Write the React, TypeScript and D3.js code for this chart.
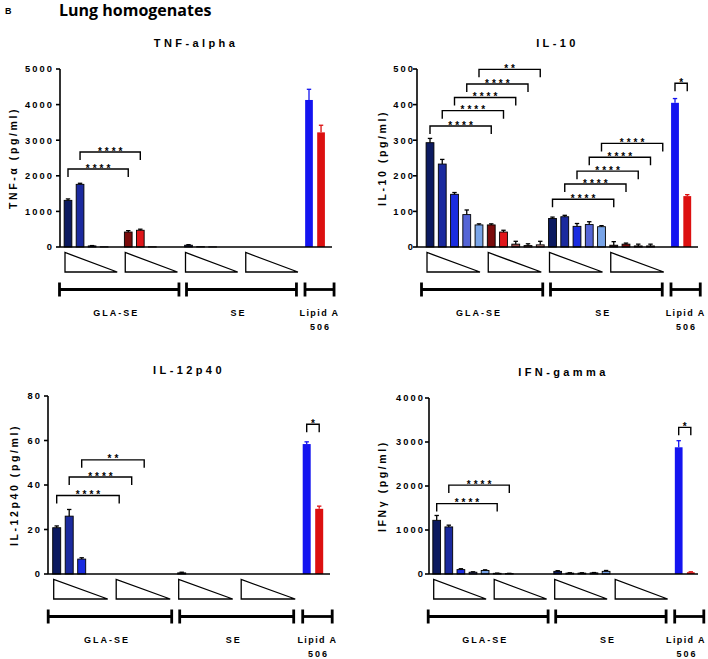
import React from 'react';
import * as d3 from 'd3';

// ---------- DATA ----------
const slots: number[] = d3.range(22);
const groupLabels = ['GLA-SE', 'SE', 'Lipid A', '506'];

const tnfValues = [1310, 1760, 30, 5, 0, 420, 470, 5, 0, 0, 50, 8, 3, 0, 0, 0, 0, 0, 0, 0, 4130, 3220];
const tnfErrors = [40, 30, 10, 0, 0, 40, 30, 0, 0, 0, 15, 0, 0, 0, 0, 0, 0, 0, 0, 0, 300, 200];
const tnfTicks = [0, 1000, 2000, 3000, 4000, 5000];
const tnfSig: [number, number, number, string][] = [
  [0, 5, 2190, '****'],
  [1, 6, 2670, '****'],
];

const il10Values = [293, 233, 148, 91, 62, 62, 42, 8, 4, 6, 80, 85, 58, 63, 57, 5, 8, 3, 3, 0, 405, 143];
const il10Errors = [12, 13, 5, 13, 3, 3, 5, 8, 5, 10, 4, 4, 8, 8, 3, 10, 3, 5, 5, 0, 12, 4];
const il10Ticks = [0, 100, 200, 300, 400, 500];
const il10Sig: [number, number, number, string][] = [
  [0, 5, 340, '****'],
  [1, 6, 383, '****'],
  [2, 7, 420, '****'],
  [3, 8, 458, '****'],
  [4, 9, 499, '**'],
  [10, 15, 134, '****'],
  [11, 16, 177, '****'],
  [12, 17, 213, '****'],
  [13, 18, 252, '****'],
  [14, 19, 291, '****'],
  [20, 21, 460, '*'],
];

const il12Values = [20.8, 26, 6.7, 0, 0, 0, 0, 0, 0, 0, 0.5, 0, 0, 0, 0, 0, 0, 0, 0, 0, 58.4, 29.3];
const il12Errors = [0.8, 3, 0.6, 0, 0, 0, 0, 0, 0, 0, 0.3, 0, 0, 0, 0, 0, 0, 0, 0, 0, 1, 1.2];
const il12Ticks = [0, 20, 40, 60, 80];
const il12Sig: [number, number, number, string][] = [
  [0, 5, 35.3, '****'],
  [1, 6, 43.6, '****'],
  [2, 7, 51.3, '**'],
  [20, 21, 67.3, '*'],
];

const ifnValues = [1220, 1070, 100, 40, 80, 15, 10, 0, 0, 0, 60, 20, 20, 25, 60, 0, 0, 0, 0, 0, 2880, 40];
const ifnErrors = [110, 40, 20, 10, 15, 5, 5, 0, 0, 0, 15, 8, 8, 8, 20, 0, 0, 0, 0, 0, 150, 10];
const ifnTicks = [0, 1000, 2000, 3000, 4000];
const ifnSig: [number, number, number, string][] = [
  [0, 5, 1600, '****'],
  [1, 6, 2020, '****'],
  [20, 21, 3333, '*'],
];

const slotColors = [
  '#0c1a60', '#1b2a9e', '#1a2ce0', '#5565d6', '#78a4e8',
  '#7a0b0b', '#e0161a', '#9a4a4a', '#b06a6a', '#c08a8a',
  '#0c1a60', '#1b2a9e', '#1a2ce0', '#5565d6', '#78a4e8',
  '#3a1010', '#7a0b0b', '#9a4a4a', '#b06a6a', '#c08a8a',
  '#1414f0', '#dc1010',
];

// ---------- PANEL CONFIG ----------
type Cfg = {
  title: string;
  yTitle: string;
  values: number[];
  errors: number[];
  ticks: number[];
  sig: [number, number, number, string][];
  axisX0: number;
  axisX1: number;
  yTop: number;
  yBottom: number;
  c0: number;
  step: number;
  labelGap: number;
  yTitleOff: number;
};

const panels: Cfg[] = [
  { title: 'TNF-alpha', yTitle: 'TNF-α (pg/ml)', values: tnfValues, errors: tnfErrors, ticks: tnfTicks, sig: tnfSig,
    axisX0: 60, axisX1: 332, yTop: 69, yBottom: 247, c0: 68, step: 12.05, labelGap: 6, yTitleOff: 47 },
  { title: 'IL-10', yTitle: 'IL-10 (pg/ml)', values: il10Values, errors: il10Errors, ticks: il10Ticks, sig: il10Sig,
    axisX0: 417, axisX1: 698, yTop: 69, yBottom: 247, c0: 430, step: 12.25, labelGap: 2, yTitleOff: 35 },
  { title: 'IL-12p40', yTitle: 'IL-12p40 (pg/ml)', values: il12Values, errors: il12Errors, ticks: il12Ticks, sig: il12Sig,
    axisX0: 48, axisX1: 330, yTop: 396, yBottom: 574, c0: 56.7, step: 12.5, labelGap: 6, yTitleOff: 34 },
  { title: 'IFN-gamma', yTitle: 'IFNγ (pg/ml)', values: ifnValues, errors: ifnErrors, ticks: ifnTicks, sig: ifnSig,
    axisX0: 429, axisX1: 698, yTop: 398, yBottom: 574, c0: 436.7, step: 12.1, labelGap: 4, yTitleOff: 47 },
];

const FONT = '"Liberation Sans", Arial, Helvetica, sans-serif';

function Panel({ cfg }: { cfg: Cfg }) {
  const yMax = cfg.ticks[cfg.ticks.length - 1];
  const y = d3.scaleLinear().domain([0, yMax]).range([cfg.yBottom, cfg.yTop]);
  const x = d3
    .scaleBand<number>()
    .domain(slots)
    .range([cfg.c0 - cfg.step / 2, cfg.c0 + 21.5 * cfg.step])
    .paddingInner(0.36)
    .paddingOuter(0.18);
  const bw = x.bandwidth();
  const cx = (i: number) => (x(i) as number) + bw / 2;
  const base = cfg.yBottom;
  const midX = (cfg.axisX0 + cfg.axisX1) / 2;
  const midY = (cfg.yTop + cfg.yBottom) / 2;

  const tri = [0, 5, 10, 15].map((s) => ({ x0: cx(s) - 3, x1: cx(s + 4) + 1 }));
  const lineY = base + 42.5;
  const groups = [
    { x0: cx(0) - 8.5, x1: cx(9) + 2.5, label: groupLabels[0], off: -4, ls: 2 },
    { x0: cx(10) - 2, x1: cx(19) - 0.5, label: groupLabels[1], off: -4, ls: 2 },
    { x0: cx(20) - 4, x1: cx(21) + 13, label: groupLabels[2], off: 0, ls: 1.4 },
  ];
  const lipidMid = Math.min((groups[2].x0 + groups[2].x1) / 2, 686);

  return (
    <g>
      {/* title */}
      <text x={midX} y={cfg.yTop - 22.5} textAnchor="middle" fontFamily={FONT} fontWeight="bold"
        fontSize={11} letterSpacing={3.4}>{cfg.title}</text>
      {/* y title */}
      <text transform={`translate(${cfg.axisX0 - cfg.yTitleOff + 4},${midY}) rotate(-90)`} textAnchor="middle"
        fontFamily={FONT} fontWeight="bold" fontSize={10.5} letterSpacing={2.6}>{cfg.yTitle}</text>
      {/* y axis */}
      <line x1={cfg.axisX0} x2={cfg.axisX0} y1={cfg.yTop} y2={cfg.yBottom} stroke="#000" strokeWidth={1.6} />
      {cfg.ticks.map((t) => (
        <g key={t}>
          <line x1={cfg.axisX0 - 4} x2={cfg.axisX0} y1={y(t)} y2={y(t)} stroke="#000" strokeWidth={1.6} />
          <text x={cfg.axisX0 - cfg.labelGap} y={y(t) + 3.3} textAnchor="end" fontFamily={FONT}
            fontWeight="bold" fontSize={9.3} letterSpacing={2.1}>{t}</text>
        </g>
      ))}
      {/* bars */}
      {slots.map((i) => {
        const v = cfg.values[i];
        const e = cfg.errors[i];
        if (v <= 0 && e <= 0) return null;
        const isLipid = i >= 20;
        const col = slotColors[i];
        const top = y(v);
        const errCol = isLipid ? col : '#000';
        return (
          <g key={i}>
            <rect x={x(i)} y={top} width={bw} height={Math.max(0, base - top)} fill={col}
              stroke={isLipid ? 'none' : '#000'} strokeWidth={0.9} />
            {e > 0 && (
              <g stroke={errCol} strokeWidth={1.3}>
                <line x1={cx(i)} x2={cx(i)} y1={top} y2={y(v + e)} />
                <line x1={cx(i) - 2.2} x2={cx(i) + 2.2} y1={y(v + e)} y2={y(v + e)} />
              </g>
            )}
          </g>
        );
      })}
      {/* x axis */}
      <line x1={cfg.axisX0} x2={cfg.axisX1} y1={base} y2={base} stroke="#000" strokeWidth={1.6} />
      {/* significance brackets */}
      {cfg.sig.map(([a, b, v, lab], k) => {
        const yy = y(v);
        const x0 = cx(a);
        const x1 = cx(b);
        return (
          <g key={k}>
            <path d={`M${x0},${yy + 8}V${yy}H${x1}V${yy + 8}`} fill="none" stroke="#000" strokeWidth={1.4} />
            <text x={(x0 + x1) / 2 + 1.5} y={yy + 2.6} textAnchor="middle" fontFamily={FONT} fontWeight="bold"
              fontSize={10} letterSpacing={3}>{lab}</text>
          </g>
        );
      })}
      {/* dose triangles */}
      {tri.map((t, k) => (
        <path key={k} d={`M${t.x0},${base + 5.5}L${t.x0},${base + 25}L${t.x1},${base + 25}Z`}
          fill="none" stroke="#000" strokeWidth={1.3} />
      ))}
      {/* group lines */}
      {groups.map((g, k) => (
        <g key={k} stroke="#000" strokeWidth={2.8}>
          <line x1={g.x0} x2={g.x1} y1={lineY} y2={lineY} />
          <line x1={g.x0} x2={g.x0} y1={lineY - 7} y2={lineY + 7} />
          <line x1={g.x1} x2={g.x1} y1={lineY - 7} y2={lineY + 7} />
        </g>
      ))}
      {groups.map((g, k) => (
        <text key={'t' + k} x={k === 2 ? lipidMid : (g.x0 + g.x1) / 2 + g.off + 1} y={base + 69}
          textAnchor="middle" fontFamily={FONT}
          fontWeight="bold" fontSize={9} letterSpacing={g.ls}>{g.label}</text>
      ))}
      <text x={lipidMid + 1} y={base + 82.5} textAnchor="middle" fontFamily={FONT}
        fontWeight="bold" fontSize={9} letterSpacing={2}>{groupLabels[3]}</text>
    </g>
  );
}

export default function App() {
  return (
    <svg width={708} height={659} style={{ position: 'absolute', left: 0, top: 0, background: '#fff' }}>
      <rect x={0} y={0} width={708} height={659} fill="#fff" />
      <text x={5} y={14} fontFamily={FONT} fontWeight="bold" fontSize={9}>B</text>
      <text x={59} y={16} fontFamily='"Open Sans", sans-serif' fontWeight="bold" fontSize={16}>Lung homogenates</text>
      {panels.map((p, i) => (
        <Panel key={i} cfg={p} />
      ))}
    </svg>
  );
}
